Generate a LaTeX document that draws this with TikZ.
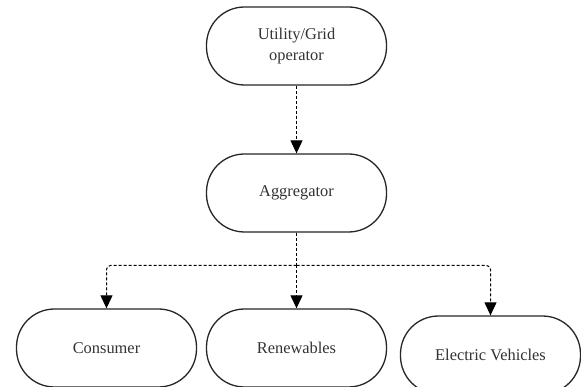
\documentclass[tikz,border=0pt]{standalone}
\usepackage{fontspec}
\setmainfont{Liberation Serif}
\usetikzlibrary{arrows.meta}
\begin{document}
\begin{tikzpicture}[x=1pt,y=-1pt,
  box/.style={draw=black!85, line width=1.3pt, rounded corners=38pt,
    minimum width=180pt, minimum height=78pt, inner sep=0pt,
    align=center, text=black!80, font=\fontsize{16.4}{21}\selectfont},
  conn/.style={draw=black, line width=1pt, dash pattern=on 3pt off 2pt,
    rounded corners=4pt},
  tip/.style={-{Triangle[length=13pt,width=12pt]}}]
\useasboundingbox (0,0) rectangle (581,387);
\clip (0,0) rectangle (581,387);
\fill[white] (0,0) rectangle (581,387);
\node[box] (util) at (296.5,46) {Utility/Grid\\operator};
\node[box] (agg) at (296.5,193) {Aggregator};
\node[box] (cons) at (106.5,348) {Consumer};
\node[box] (ren) at (296.5,348) {Renewables};
\node[box] (ev) at (490.5,355) {Electric Vehicles};
\coordinate (j) at (296.5,265.5);
\draw[conn,tip] (util) -- (agg);
\draw[conn] (agg) -- (j);
\draw[conn,tip] (j) -| (cons.north);
\draw[conn,tip] (j) -- (ren);
\draw[conn,tip] (j) -| (ev.north);
\end{tikzpicture}
\end{document}
